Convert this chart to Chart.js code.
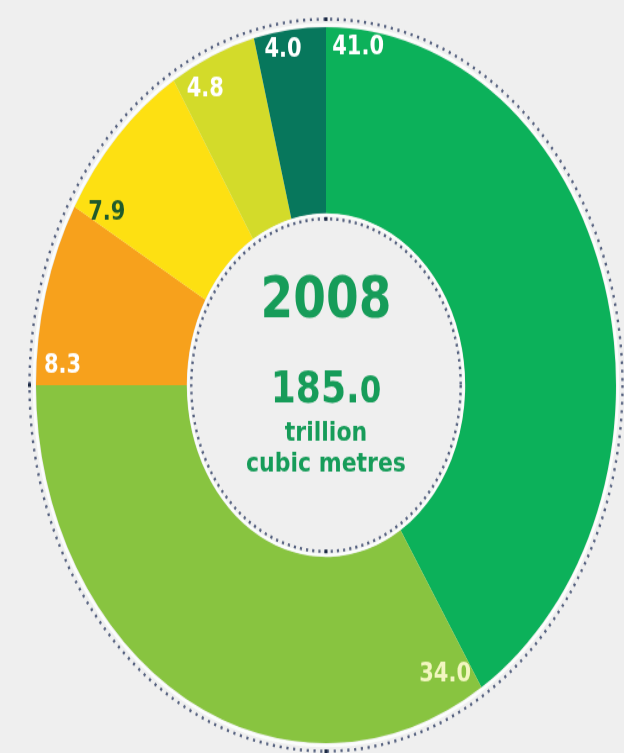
<!DOCTYPE html>
<html>
<head>
<meta charset="utf-8">
<script src="https://cdn.jsdelivr.net/npm/chart.js@4/dist/chart.umd.min.js"></script>
<style>
  html, body { margin: 0; padding: 0; background: #efefef; width: 624px; height: 753px; }
  #wrap { width: 624px; height: 610px; transform: scaleY(1.2344); transform-origin: 0 0; }
</style>
</head>
<body>
<div id="wrap"><canvas id="c" width="624" height="610"></canvas></div>
<script>
// Data (shares in %)
const categories = ['A', 'B', 'C', 'D', 'E', 'F'];
const values = [41.0, 34.0, 8.3, 7.9, 4.8, 4.0];
const valueLabels = ['41.0', '34.0', '8.3', '7.9', '4.8', '4.0'];
const sliceColors = ['#0cb15a', '#88c440', '#f7a11c', '#fde012', '#d3db2a', '#07775c'];
const labelColors = ['#ffffff', '#f2f6c0', '#ffffff', '#1f5a2c', '#ffffff', '#ffffff'];
const centerYear = '2008';
const centerTotalMain = '185.';
const centerTotalDec = '0';
const centerUnit1 = 'trillion';
const centerUnit2 = 'cubic metres';

const ringPlugin = {
  id: 'ringDeco',
  afterDatasetsDraw(chart) {
    const ctx = chart.ctx;
    const arcs = chart.getDatasetMeta(0).data;
    if (!arcs.length) return;
    const a0 = arcs[0];
    const cx = a0.x, cy = a0.y, R = a0.outerRadius, r = a0.innerRadius;
    ctx.save();
    // white thin rings
    ctx.strokeStyle = '#fbfdfb';
    ctx.lineWidth = 2.5;
    ctx.beginPath(); ctx.arc(cx, cy, R + 2, 0, Math.PI * 2); ctx.stroke();
    ctx.lineWidth = 2;
    ctx.beginPath(); ctx.arc(cx, cy, r - 1.5, 0, Math.PI * 2); ctx.stroke();
    // dotted rings
    ctx.strokeStyle = '#55617f';
    ctx.lineWidth = 2.4;
    ctx.setLineDash([2.2, 4.6]);
    ctx.beginPath(); ctx.arc(cx, cy, R + 6.5, 0, Math.PI * 2); ctx.stroke();
    ctx.setLineDash([2.2, 4.0]);
    ctx.beginPath(); ctx.arc(cx, cy, r - 4.5, 0, Math.PI * 2); ctx.stroke();
    ctx.setLineDash([]);
    // cardinal marks
    ctx.fillStyle = '#1d2a44';
    [[0, -(R + 6.5)], [0, R + 6.5], [-(R + 6.5), 0], [0, -(r - 4.5)], [0, r - 4.5]].forEach(p => {
      ctx.fillRect(cx + p[0] - 1.5, cy + p[1] - 1.5, 3, 3);
    });
    // slice labels (placed near the outer edge, just after each slice start)
    const angOff = [6.7, 5.5, 3.3, 2.6, 4.9, 5.4];
    const radF = [0.95, 0.908, 0.91, 0.896, 0.924, 0.948];
    ctx.font = 'bold 21px "DejaVu Sans", sans-serif';
    ctx.textAlign = 'center';
    ctx.textBaseline = 'middle';
    arcs.forEach((arc, i) => {
      const ang = arc.startAngle + angOff[i] * Math.PI / 180;
      const rr = R * radF[i];
      ctx.fillStyle = labelColors[i];
      ctx.fillText(valueLabels[i], cx + Math.cos(ang) * rr, cy + Math.sin(ang) * rr);
    });
    // center text
    ctx.fillStyle = '#169c59';
    ctx.font = 'bold 47px "DejaVu Sans", sans-serif';
    ctx.fillText(centerYear, cx, cy - 67);
    ctx.font = 'bold 36px "DejaVu Sans", sans-serif';
    const wMain = ctx.measureText(centerTotalMain).width;
    ctx.font = 'bold 31px "DejaVu Sans", sans-serif';
    const wDec = ctx.measureText(centerTotalDec).width;
    const startX = cx - (wMain + wDec) / 2;
    ctx.textAlign = 'left';
    ctx.textBaseline = 'alphabetic';
    ctx.font = 'bold 36px "DejaVu Sans", sans-serif';
    ctx.fillText(centerTotalMain, startX, cy + 14);
    ctx.font = 'bold 31px "DejaVu Sans", sans-serif';
    ctx.fillText(centerTotalDec, startX + wMain, cy + 14);
    ctx.textAlign = 'center';
    ctx.textBaseline = 'middle';
    ctx.font = 'bold 22px "DejaVu Sans", sans-serif';
    ctx.fillText(centerUnit1, cx, cy + 39);
    ctx.fillText(centerUnit2, cx, cy + 64);
    ctx.restore();
  }
};

new Chart(document.getElementById('c'), {
  type: 'doughnut',
  data: {
    labels: categories,
    datasets: [{
      data: values,
      backgroundColor: sliceColors,
      borderWidth: 0,
      hoverOffset: 0
    }]
  },
  options: {
    responsive: false,
    animation: false,
    cutout: '48%',
    layout: { padding: { left: 36, right: 8, top: 22, bottom: 8 } },
    plugins: { legend: { display: false }, tooltip: { enabled: false } },
    events: []
  },
  plugins: [ringPlugin]
});
</script>
</body>
</html>
